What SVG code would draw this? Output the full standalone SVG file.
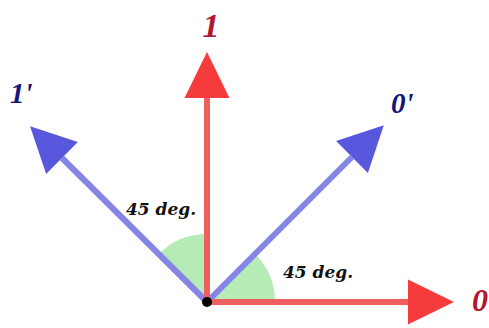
<svg xmlns="http://www.w3.org/2000/svg" width="489" height="328" viewBox="0 0 489 328">
  <style>
    .red { stroke: #ee5f5f; stroke-width: 6; fill: none; }
    .blue { stroke: #8585e6; stroke-width: 6; fill: none; }
    .wedge { fill: #b5ecb5; }
    .lbl { font-family: "Liberation Serif", serif; font-style: italic; font-weight: bold; }
    .lr { fill: #b3172f; }
    .lb { fill: #14147a; }
    .deg { font-family: "DejaVu Serif", "Liberation Serif", serif; font-style: italic; font-weight: bold; font-size: 17px; fill: #111; }
  </style>
  <defs>
    <marker id="hr" markerUnits="userSpaceOnUse" markerWidth="46" markerHeight="46" refX="0" refY="22.5" orient="auto" viewBox="0 0 46 46" overflow="visible">
      <path d="M0,0 L46,22.5 L0,45 Z" fill="#f53b3b"/>
    </marker>
    <marker id="hb" markerUnits="userSpaceOnUse" markerWidth="46" markerHeight="46" refX="0" refY="22.5" orient="auto" viewBox="0 0 46 46" overflow="visible">
      <path d="M0,0 L45,22.5 L0,45 Z" fill="#5858df"/>
    </marker>
  </defs>
  <g id="angles">
    <path class="wedge" d="M207,302 L207,234 A68,68 0 0,0 158.9,253.9 Z"/>
    <path class="wedge" d="M207,302 L275,302 A68,68 0 0,0 255.1,253.9 Z"/>
  </g>
  <g id="connectors">
    <line class="blue" x1="207" y1="302" x2="62" y2="158" marker-end="url(#hb)"/>
    <line class="blue" x1="207" y1="302" x2="352" y2="157" marker-end="url(#hb)"/>
    <line class="red" x1="207" y1="302" x2="207" y2="98" marker-end="url(#hr)"/>
    <line class="red" x1="207" y1="302" x2="408" y2="302" marker-end="url(#hr)"/>
  </g>
  <g id="origin"><circle cx="207" cy="302" r="5" fill="#000"/></g>
  <g id="label-1"><text class="lbl lr" x="211" y="37" font-size="34" text-anchor="middle">1</text></g>
  <g id="label-1p"><text class="lbl lb" x="10" y="103" font-size="29">1'</text></g>
  <g id="label-0p"><text class="lbl lb" x="391" y="113" font-size="29">0'</text></g>
  <g id="label-0"><text class="lbl lr" x="472" y="311" font-size="32">0</text></g>
  <g id="deg-left"><text class="deg" x="126" y="215">45 deg.</text></g>
  <g id="deg-right"><text class="deg" x="283" y="278">45 deg.</text></g>
</svg>
